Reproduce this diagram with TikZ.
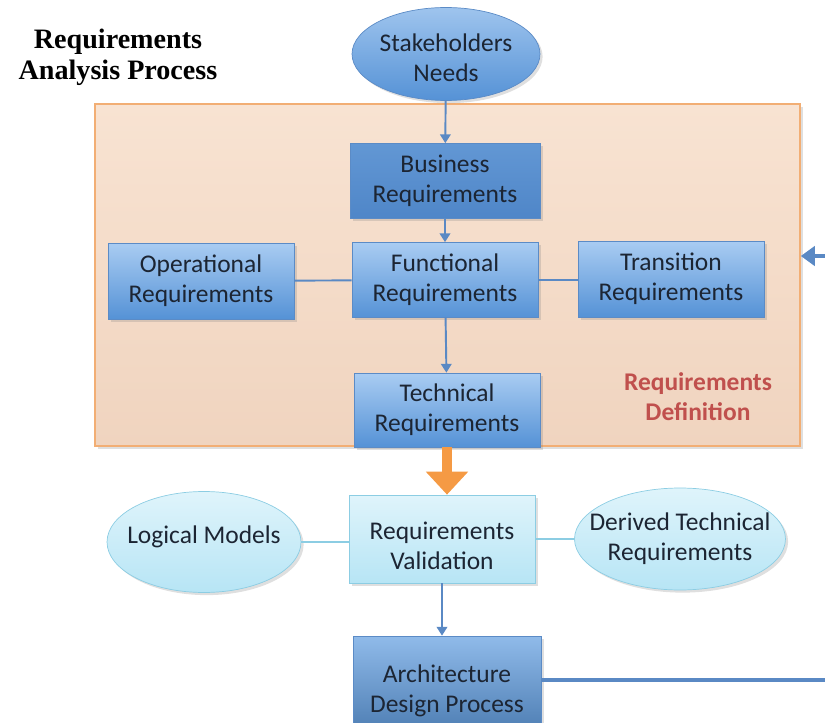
\documentclass[tikz,border=0pt]{standalone}
\usepackage{fontspec}
\setmainfont{Carlito}
\newfontfamily\titlefont{Liberation Serif}
\usepackage{xcolor}
\usetikzlibrary{arrows.meta,positioning,shapes.geometric,shadows}

\definecolor{lineblue}{HTML}{5A89C4}
\definecolor{boxtop}{HTML}{A9CCF2}
\definecolor{boxbot}{HTML}{5592D6}
\definecolor{boxedge}{HTML}{5B8BC6}
\definecolor{busblue}{HTML}{6297D4}
\definecolor{busblue2}{HTML}{4F86C8}
\definecolor{valtop}{HTML}{DFF4FB}
\definecolor{valbot}{HTML}{B7E5F5}
\definecolor{valedge}{HTML}{8CCDE3}
\definecolor{defnfill}{HTML}{F8E3D2}
\definecolor{defnfill2}{HTML}{F0D4BF}
\definecolor{defnedge}{HTML}{F2AE74}
\definecolor{arrorange}{HTML}{F59A44}
\definecolor{defred}{HTML}{C0504D}
\definecolor{inkdark}{HTML}{1C2533}

\begin{document}
\begin{tikzpicture}[x=0.02cm,y=-0.02cm,
    font=\fontsize{14.5}{17}\selectfont,
    softshadow/.style={drop shadow={opacity=0.25,shadow xshift=1.5pt,shadow yshift=-1.5pt}},
    reqbox/.style={rectangle,draw=boxedge,top color=boxtop,bottom color=boxbot,
        text=inkdark,align=center,minimum width=3.72cm,minimum height=1.5cm,
        inner sep=2pt,softshadow},
    valbox/.style={rectangle,draw=valedge,top color=valtop,bottom color=valbot,
        text=inkdark,align=center,minimum width=3.72cm,minimum height=1.76cm,
        inner sep=2pt,softshadow},
    lightell/.style={ellipse,draw=valedge,top color=valtop,bottom color=valbot,
        inner sep=0pt,softshadow},
    celltext/.style={text=inkdark,align=center},
    conn/.style={draw=lineblue,line width=1.1pt,-{Triangle[width=6pt,length=5pt]}},
    link/.style={draw=lineblue,line width=1.1pt},
    vlink/.style={draw=valedge,line width=0.9pt}]

    \useasboundingbox (0,0) rectangle (825,723);
    \clip (0,0) rectangle (825,723);

    % Title
    \node[font=\titlefont\bfseries\fontsize{16}{17.6}\selectfont,align=center] (title) at (118,57)
        {Requirements\\Analysis Process};

    % Requirements definition area
    \node[rectangle,draw=defnedge,line width=1pt,top color=defnfill,bottom color=defnfill2,
        minimum width=14.1cm,minimum height=6.84cm,inner sep=0pt,softshadow] (defn) at (447.5,275) {};
    \node[text=defred,font=\bfseries\fontsize{14.5}{17}\selectfont,align=center] (defnlabel) at (698,397)
        {Requirements\\Definition};

    % Stakeholders
    \node[ellipse,draw=boxedge,top color=boxtop!85!busblue,bottom color=boxbot,inner sep=0pt,
        minimum width=3.76cm,minimum height=1.86cm,softshadow,
        label={[celltext,yshift=-2pt]center:{Stakeholders\\Needs}}] (needs) at (446,54) {};

    % Requirement boxes
    \node[reqbox,top color=busblue,bottom color=busblue2,minimum width=3.8cm] (business) at (445,181)
        {Business\\Requirements};
    \node[reqbox] (functional) at (445,280) {Functional\\Requirements};
    \node[reqbox,minimum height=1.52cm] (operational) at (201,281) {Operational\\Requirements};
    \node[reqbox,minimum height=1.52cm] (transition) at (671,279) {Transition\\Requirements};
    \node[reqbox,minimum height=1.48cm] (technical) at (447,410) {Technical\\Requirements};

    % Validation row
    \node[valbox,label={[celltext,yshift=-4pt]center:{Requirements\\Validation}}] (validation) at (442,539) {};
    \node[lightell,minimum width=3.88cm,minimum height=2.02cm,
        label={[celltext,yshift=3pt]center:{Logical Models}}] (logical) at (204,542) {};
    \node[lightell,minimum width=4.22cm,minimum height=2.04cm,
        label={[celltext]center:{Derived Technical\\Requirements}}] (derived) at (680,539) {};

    % Architecture (runs past the lower edge)
    \node[reqbox,top color=boxtop!70!boxbot,bottom color=boxbot!80!black,
        minimum width=3.76cm,minimum height=2.2cm] (arch) at (447,691)
        {Architecture\\Design Process};

    % Connectors
    \draw[conn] (needs) -- (business);
    \draw[conn] (business) -- (functional);
    \draw[conn] (functional) -- (technical);
    \draw[link] (operational) -- (functional);
    \draw[link] (functional) -- (transition.west |- functional);
    \draw[vlink] (logical) -- (validation.west |- logical);
    \draw[vlink] (validation.east |- derived) -- (derived);
    \draw[conn] (validation) -- (arch.north -| validation);

    % Orange flow arrow
    \draw[arrorange,line width=5.5pt,-{Triangle[width=0.82cm,length=0.46cm]}]
        (technical.south) -- (validation.north -| technical.south);

    % Feedback loop
    \coordinate (fbend) at (840,256);
    \draw[draw=lineblue,line width=2.2pt,-{Triangle[width=11pt,length=8pt]}]
        ([yshift=0.22cm]arch.east) -| (fbend) -- (fbend -| defn.east);
\end{tikzpicture}
\end{document}
